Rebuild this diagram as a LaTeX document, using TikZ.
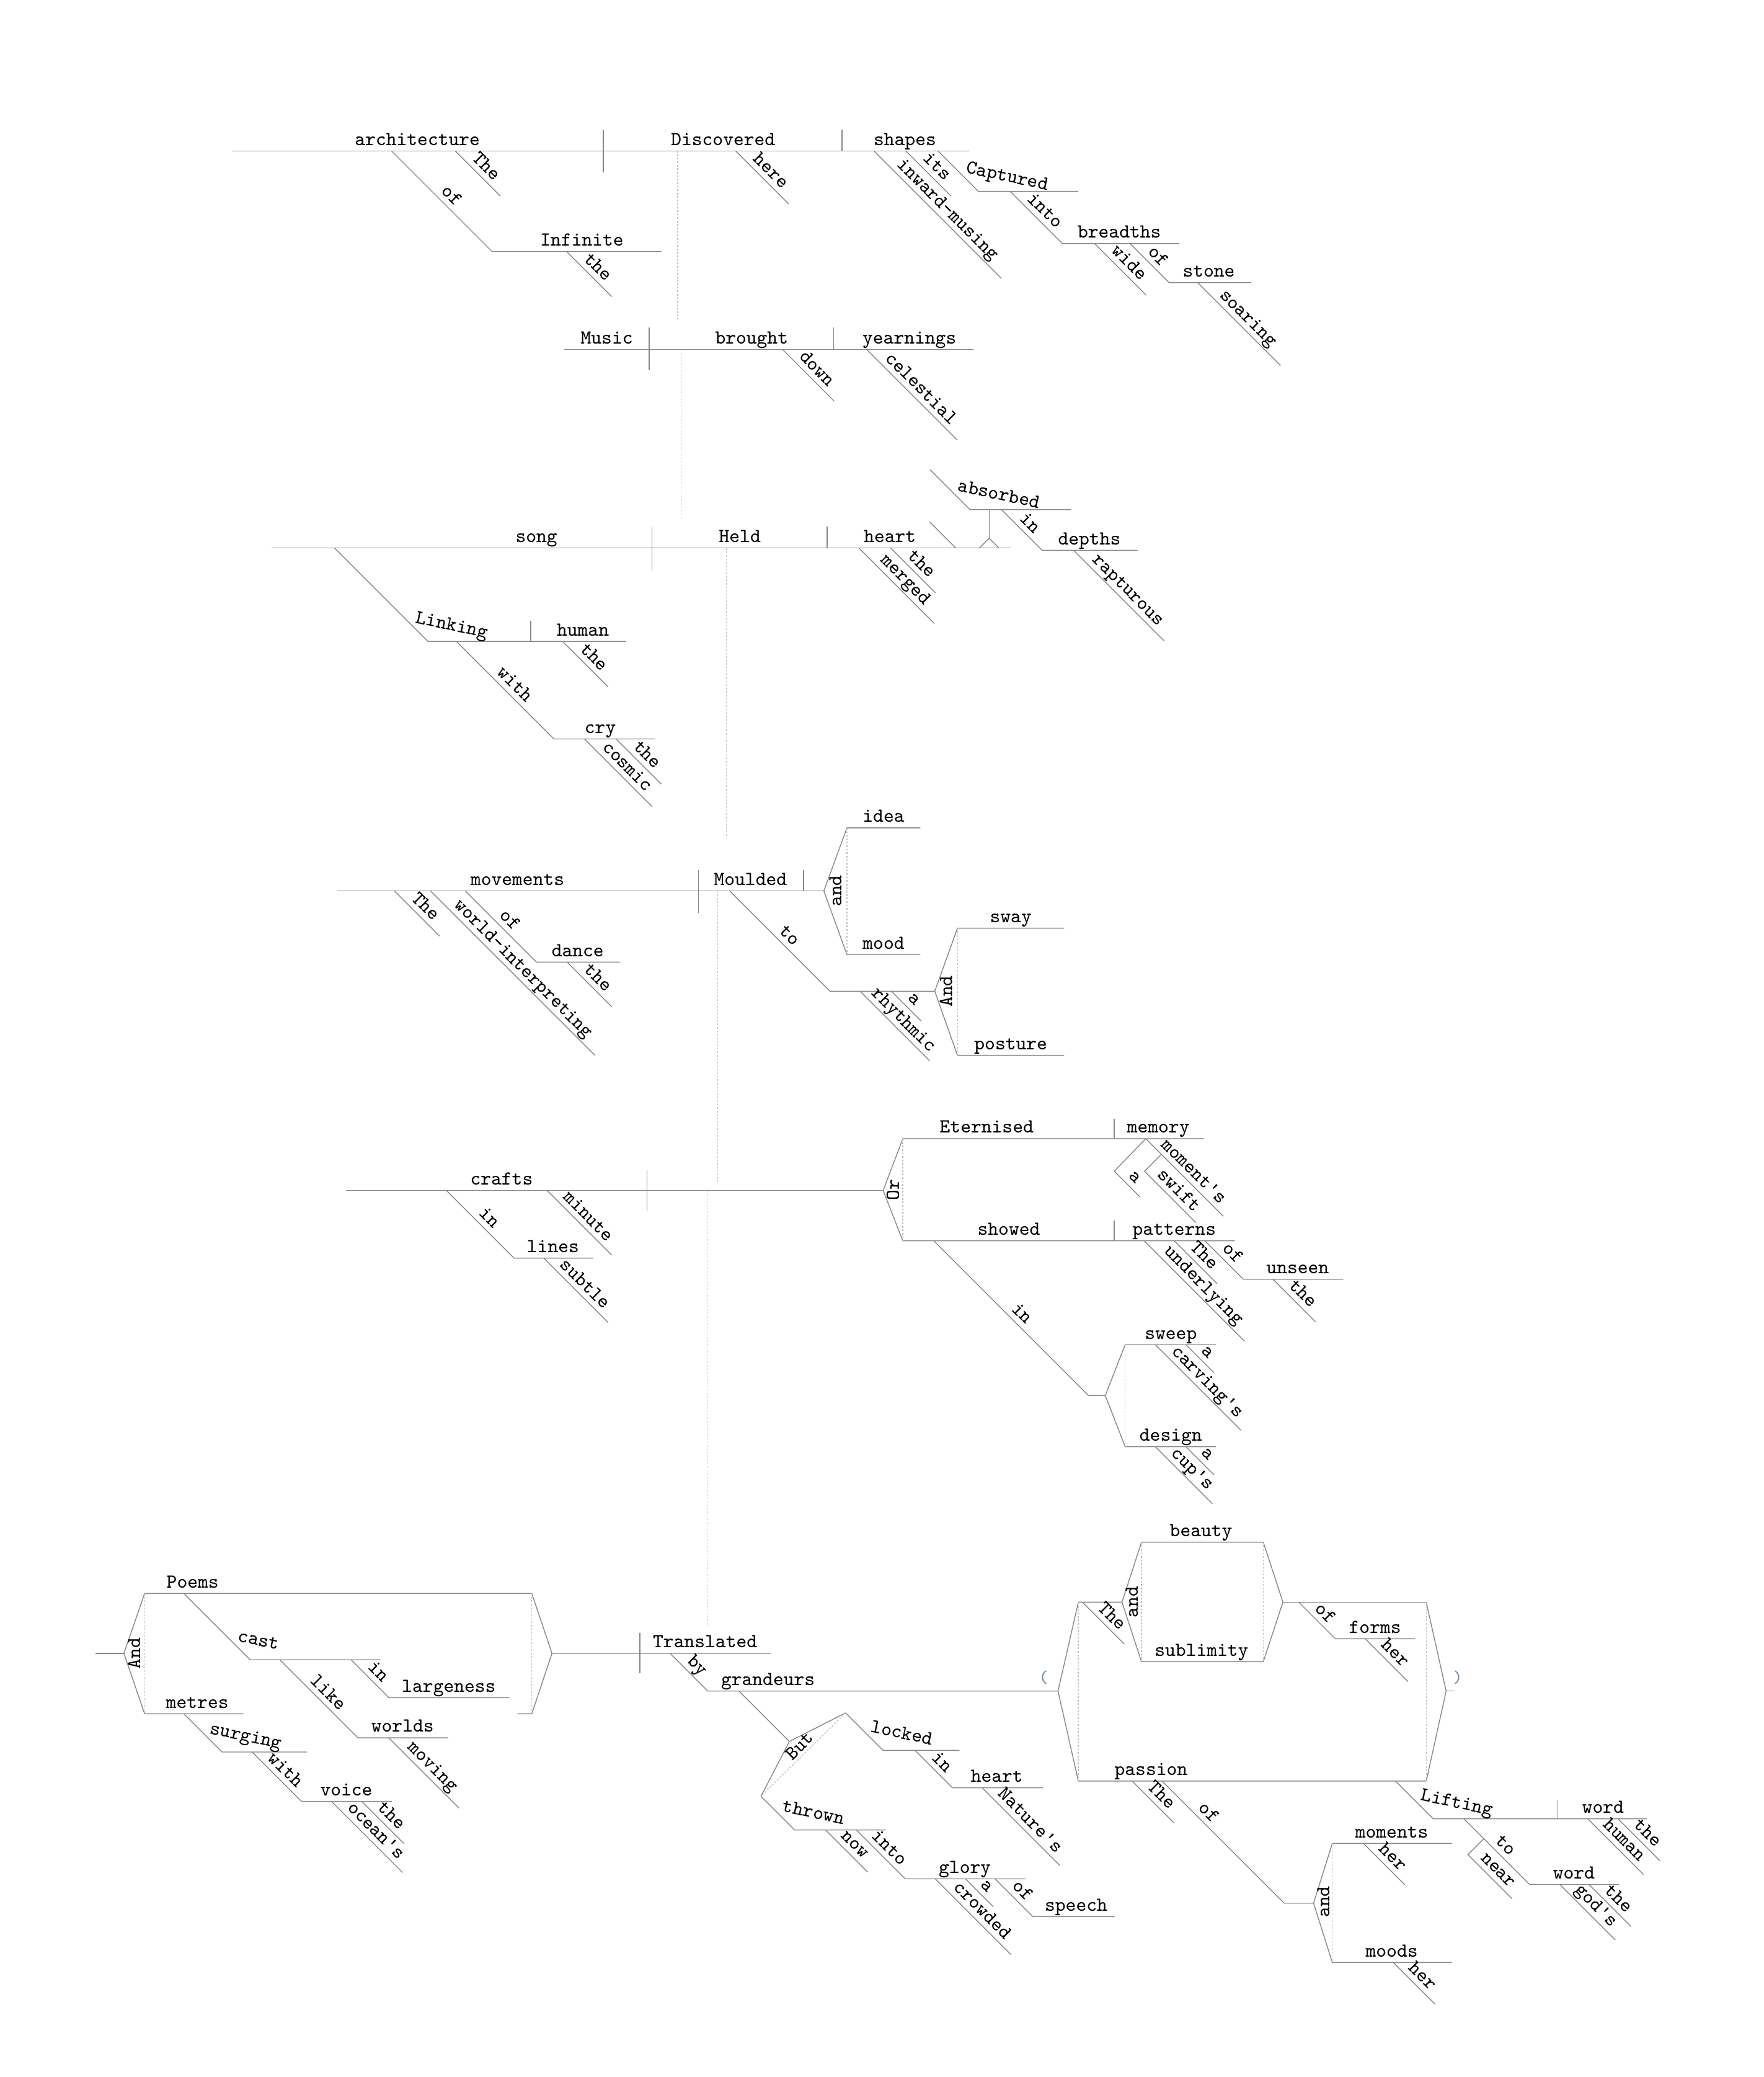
\documentclass[tikz,border=0pt]{standalone}
\usepackage{fontspec}
\usepackage{tikz}
\definecolor{linegray}{RGB}{135,135,135}
\definecolor{dotgray}{RGB}{190,190,190}
\definecolor{parenblue}{RGB}{115,140,175}
\tikzset{
    rk/.style={draw=linegray, line width=0.4pt},
    link/.style={draw=dotgray, line width=0.4pt, dash pattern=on 0.8pt off 0.8pt},
    word/.style={font=\fontsize{9.1}{10}\ttfamily, inner sep=0pt, text depth=0pt, above=2.4pt},
    mod/.style={word, sloped, pos=.52},
    part/.style={font=\fontsize{9.1}{10}\ttfamily, inner sep=0pt, anchor=base west, rotate=-12},
    conjtext/.style={font=\fontsize{9.1}{10}\ttfamily, inner sep=0pt},
    conj/.style={conjtext, rotate=90},
    paren/.style={font=\fontsize{8}{9}\ttfamily, inner sep=0pt, text=parenblue}
}

\begin{document}
\begin{tikzpicture}[x=0.0214cm, y=-0.0214cm]
    \fill[white] (0,0) rectangle (1329.4,1565);
    \useasboundingbox (0,0) rectangle (1329.4,1565);

    \draw[rk] (174.9,113.7) -- (730.2,113.7);
    \draw[rk] (454.6,97.8) -- (454.6,130.1);
    \draw[rk] (634.5,97.8) -- (634.5,113.7);
    \node[word] (architecture) at (314.6,113.7) {architecture};
    \node[word] (discovered) at (545,113.7) {Discovered};
    \node[word] (shapes) at (682,113.7) {shapes};
    \draw[rk] (343.1,113.7) -- ++(34,34) node[mod] (the-a) {The};
    \draw[rk] (295,113.7) -- ++(75.8,75.8) node[mod] (of-a) {of} -- (498.6,189.5);
    \node[word] (infinite) at (438.6,189.5) {Infinite};
    \draw[rk] (427,189.5) -- ++(34,34) node[mod] (the-i) {the};
    \draw[rk] (554.4,113.7) -- ++(40,40) node[mod] (here) {here};
    \draw[rk] (658.6,113.7) -- ++(96,96) node[mod] (inward) {inward-musing};
    \draw[rk] (682.7,113.7) -- ++(34,34) node[mod] (its) {its};
    \draw[rk] (706.9,113.7) -- ++(30.5,30.5) -- (812.8,144.2);
    \node[part] (captured) at (727.4,130.2) {Captured};
    \draw[rk] (761.3,144.2) -- ++(39.3,39.3) node[mod] (into-b) {into} -- (888.5,183.5);
    \node[word] (breadths) at (843.6,183.5) {breadths};
    \draw[rk] (824.9,183.5) -- ++(39,39) node[mod] (wide) {wide};
    \draw[rk] (851.7,183.5) -- ++(29.5,29.5) node[mod] (of-s) {of} -- (942.9,213);
    \node[word] (stone) at (911,213) {stone};
    \draw[rk] (902.7,213) -- ++(62.4,62.4) node[mod] (soaring) {soaring};
    \draw[link] (510.7,113.7) -- (510.7,240.7);

    \draw[rk] (425.1,263.3) -- (733.7,263.3);
    \draw[rk] (489.2,246.9) -- (489.2,279.2);
    \draw[rk] (628.3,246.9) -- (628.3,263.3);
    \node[word] (music) at (457.3,263.3) {Music};
    \node[word] (brought) at (566.5,263.3) {brought};
    \node[word] (yearnings) at (685.4,263.3) {yearnings};
    \draw[rk] (589.7,263.3) -- ++(39,39) node[mod] (down) {down};
    \draw[rk] (653.2,263.3) -- ++(68,68) node[mod] (celestial) {celestial};
    \draw[link] (513.4,263.3) -- (513.4,390.6);

    \draw[rk] (204.6,413) -- (762,413);
    \draw[rk] (491.3,396.9) -- (491.3,429.4);
    \draw[rk] (623.3,396.9) -- (623.3,413);
    \node[word] (song) at (404.3,413) {song};
    \node[word] (held) at (557.6,413) {Held};
    \node[word] (heart-h) at (670.7,413) {heart};
    \draw[rk] (647.4,413) -- ++(56.8,56.8) node[mod] (merged) {merged};
    \draw[rk] (671.3,413) -- ++(33.8,33.8) node[mod] (the-h) {the};
    \draw[rk] (700.8,393.4) -- (720.4,413);
    \draw[rk] (745.5,384) -- (745.5,405.6);
    \draw[rk] (738,413) -- (745.5,405.6) -- (753,413);
    \draw[rk] (701,354) -- ++(30,30) -- (807,384);
    \node[part] (absorbed) at (721,370) {absorbed};
    \draw[rk] (754.7,384) -- ++(30.7,30.7) node[mod] (in-d) {in} -- (857.3,414.7);
    \node[word] (depths) at (821,414.7) {depths};
    \draw[rk] (809.2,414.7) -- ++(68.2,68.2) node[mod] (rapturous) {rapturous};
    \draw[rk] (252.2,413) -- ++(70.3,70.3) -- (472,483.3);
    \node[part] (linking) at (312.5,469.3) {Linking};
    \draw[rk] (400,467.8) -- (400,483.3);
    \node[word] (human-l) at (439.3,483.3) {human};
    \draw[rk] (424,483.3) -- ++(34.3,34.3) node[mod] (the-l) {the};
    \draw[rk] (344,483.3) -- ++(73.5,73.5) node[mod] (with-c) {with} -- (493.6,556.8);
    \node[word] (cry) at (452.4,556.8) {cry};
    \draw[rk] (464.3,556.8) -- ++(34,34) node[mod] (the-c) {the};
    \draw[rk] (440.5,556.8) -- ++(51,51) node[mod] (cosmic) {cosmic};
    \draw[link] (547.3,413) -- (547.3,631.6);

    \draw[rk] (254.4,671.3) -- (620.9,671.3);
    \draw[rk] (526.3,655.4) -- (526.3,687.7);
    \draw[rk] (605.6,655.4) -- (605.6,671.3);
    \node[word] (movements) at (390,671.3) {movements};
    \node[word] (moulded) at (565.6,671.3) {Moulded};
    \draw[rk] (297.3,671.3) -- ++(34,34) node[mod] (the-m) {The};
    \draw[rk] (324.5,671.3) -- ++(123.8,123.8) node[mod] (world) {world-interpreting};
    \draw[rk] (350.7,671.3) -- ++(53.6,53.6) node[mod] (of-d) {of} -- (467.4,724.9);
    \node[word] (dance) at (435.4,724.9) {dance};
    \draw[rk] (427.4,724.9) -- ++(33.7,33.7) node[mod] (the-d) {the};
    \draw[rk] (693.6,623.8) -- (638.3,623.8) -- (620.9,671.3) -- (638.3,719.3) -- (693.6,719.3);
    \draw[link] (638.3,623.8) -- (638.3,719.3);
    \node[word] (idea) at (665.9,623.8) {idea};
    \node[word] (mood) at (665.9,719.3) {mood};
    \node[conj] (and-i) at (629.6,671.3) {and};
    \draw[rk] (550,671.3) -- ++(75.6,75.6) node[mod] (to-r) {to} -- (704.5,746.9);
    \draw[rk] (648.2,746.9) -- ++(52.4,52.4) node[mod] (rhythmic) {rhythmic};
    \draw[rk] (671.8,746.9) -- ++(22.4,22.4) node[mod] (a-r) {a};
    \draw[rk] (802,699.4) -- (721.6,699.4) -- (704.5,746.9) -- (721.6,795.2) -- (802,795.2);
    \draw[link] (721.6,699.4) -- (721.6,795.2);
    \node[word] (sway) at (761.8,699.4) {sway};
    \node[word] (posture) at (761.8,795.2) {posture};
    \node[conj] (and-s) at (713,747) {And};
    \draw[link] (540.9,671.3) -- (540.9,890.6);

    \draw[rk] (260.7,897) -- (665.6,897);
    \draw[rk] (487.6,881.5) -- (487.6,912.5);
    \node[word] (crafts) at (378,897) {crafts};
    \draw[rk] (336.4,897) -- ++(51,51) node[mod] (in-l) {in} -- (447.1,948);
    \node[word] (lines) at (416.8,948) {lines};
    \draw[rk] (409.8,948) -- ++(48.5,48.5) node[mod] (subtle) {subtle};
    \draw[rk] (412.3,897) -- ++(48.7,48.7) node[mod] (minute) {minute};
    \draw[link] (533,897) -- (533,1224.8);
    \draw[rk] (907.4,858) -- (680.4,858) -- (665.6,897) -- (680.4,934.9) -- (930.7,934.9);
    \draw[link] (680.4,858) -- (680.4,934.9);
    \node[conj] (or) at (673,896.5) {Or};
    \draw[rk] (839.7,842.8) -- (839.7,858);
    \node[word] (eternised) at (743.6,858) {Eternised};
    \node[word] (memory) at (873,858) {memory};
    \draw[rk] (863.5,858) -- ++(58.5,58.5) node[mod] (moments-m) {moment's};
    \draw[rk] (863.5,858) -- (839.8,882.5) -- ++(19.5,19.5) node[mod] (a-m) {a};
    \draw[rk] (875.3,869.8) -- (862.6,882.5) -- ++(38.8,38.8) node[mod] (swift) {swift};
    \draw[rk] (839.7,919.7) -- (839.7,934.9);
    \node[word] (showed) at (760.3,934.9) {showed};
    \node[word] (patterns) at (885,934.9) {patterns};
    \draw[rk] (862.3,934.9) -- ++(75.5,75.5) node[mod] (underlying) {underlying};
    \draw[rk] (885,934.9) -- ++(32.3,32.3) node[mod] (the-p) {The};
    \draw[rk] (908.1,934.9) -- ++(29,29) node[mod] (of-u) {of} -- (1012.3,963.9);
    \node[word] (unseen) at (978,963.9) {unseen};
    \draw[rk] (959.4,963.9) -- ++(32,32) node[mod] (the-u) {the};
    \draw[rk] (703.8,934.9) -- ++(116.6,116.6) node[mod] (in-s) {in} -- (833,1051.5);
    \draw[rk] (916.4,1013.2) -- (848,1013.2) -- (833,1051.5) -- (848,1090.1) -- (916.4,1090.1);
    \draw[link] (848,1013.2) -- (848,1090.1);
    \node[word] (sweep) at (882.4,1013.2) {sweep};
    \node[word] (design) at (882.4,1090.1) {design};
    \draw[rk] (893.8,1013.2) -- ++(21.2,21.2) node[mod] (a-sw) {a};
    \draw[rk] (870.7,1013.2) -- ++(64.6,64.6) node[mod] (carvings) {carving's};
    \draw[rk] (893.8,1090.1) -- ++(21.2,21.2) node[mod] (a-de) {a};
    \draw[rk] (870.7,1090.1) -- ++(43,43) node[mod] (cups) {cup's};

    \draw[rk] (72,1245.8) -- (93.4,1245.8);
    \draw[rk] (93.4,1245.8) -- (109,1200.6) -- (400.8,1200.6) -- (416,1245.8) -- (580.7,1245.8);
    \draw[rk] (183.5,1291.3) -- (109,1291.3) -- (93.4,1245.8);
    \draw[rk] (390,1291.3) -- (400.8,1291.3) -- (416,1245.8);
    \draw[link] (109,1200.6) -- (109,1291.3);
    \draw[link] (400.8,1200.6) -- (400.8,1291.3);
    \node[conj] (and-p) at (101,1246) {And};
    \node[word] (poems) at (145.2,1200.6) {Poems};
    \node[word] (metres) at (148.7,1291.3) {metres};
    \draw[rk] (138.5,1200.6) -- ++(50,50) -- (286.8,1250.6);
    \node[part] (cast) at (178.5,1236.6) {cast};
    \draw[rk] (264.5,1250.6) -- ++(28.6,28.6) node[mod] (in-g) {in} -- (383.9,1279.2);
    \node[word] (largeness) at (338.3,1279.2) {largeness};
    \draw[rk] (210.9,1250.6) -- ++(58.8,58.8) node[mod] (like) {like} -- (337.8,1309.4);
    \node[word] (worlds) at (303.4,1309.4) {worlds};
    \draw[rk] (293,1309.4) -- ++(53,53) node[mod] (moving) {moving};
    \draw[rk] (138.5,1291.3) -- ++(28.8,28.8) -- (231.5,1320.1);
    \node[part] (surging) at (157.3,1306.1) {surging};
    \draw[rk] (190,1320.1) -- ++(37.2,37.2) node[mod] (with-v) {with} -- (295.4,1357.3);
    \node[word] (voice) at (261,1357.3) {voice};
    \draw[rk] (272.6,1357.3) -- ++(31.8,31.8) node[mod] (the-v) {the};
    \draw[rk] (249.8,1357.3) -- ++(53.7,53.7) node[mod] (oceans) {ocean's};

    \draw[rk] (482.3,1230.6) -- (482.3,1261);
    \node[word] (translated) at (531.4,1245.8) {Translated};
    \draw[rk] (505.1,1245.8) -- ++(28.4,28.4) node[mod] (by) {by} -- (797.4,1274.2);
    \node[word] (grandeurs) at (578.8,1274.2) {grandeurs};
    \draw[rk] (556.9,1274.2) -- ++(38,38);
    \draw[rk] (637.3,1290.6) -- (594.9,1312.2) -- (573.5,1353.5);
    \draw[link] (637.3,1290.6) -- (573.5,1353.5);
    \node[conjtext, rotate=45] (but) at (602.4,1315.4) {But};
    \draw[rk] (637.3,1290.6) -- ++(28.3,28.3) -- (723.1,1318.9);
    \node[part] (locked) at (655.6,1304.9) {locked};
    \draw[rk] (689.6,1318.9) -- ++(28.2,28.2) node[mod] (in-n) {in} -- (785.9,1347.1);
    \node[word] (heart-n) at (751.3,1347.1) {heart};
    \draw[rk] (740.3,1347.1) -- ++(58.5,58.5) node[mod] (natures) {Nature's};
    \draw[rk] (573.5,1353.5) -- ++(25.4,25.4) -- (667.4,1378.9);
    \node[part] (thrown) at (588.9,1364.9) {thrown};
    \draw[rk] (622.3,1378.9) -- ++(31.7,31.7) node[mod] (now) {now};
    \draw[rk] (645.4,1378.9) -- ++(36.8,36.8) node[mod] (into-g) {into} -- (772.8,1415.7);
    \node[word] (glory) at (727.2,1415.7) {glory};
    \draw[rk] (704.9,1415.7) -- ++(57,57) node[mod] (crowded) {crowded};
    \draw[rk] (727.7,1415.7) -- ++(20.8,20.8) node[mod] (a-g) {a};
    \draw[rk] (750,1415.7) -- ++(28.4,28.4) node[mod] (of-sp) {of} -- (840,1444.1);
    \node[word] (speech) at (811,1444.1) {speech};

    \node[paren] (lparen) at (786.5,1264) {(};
    \node[paren] (rparen) at (1098.7,1264) {)};
    \draw[rk] (845.6,1207.2) -- (812.7,1207.2) -- (797.4,1274.2) -- (812.7,1342) -- (1074.9,1342);
    \draw[link] (812.7,1207.2) -- (812.7,1342);
    \draw[rk] (815.8,1207.2) -- ++(31.5,31.5) node[mod] (the-b) {The};
    \draw[rk] (845.6,1207.2) -- (860.3,1162) -- (952.1,1162) -- (966.9,1207.2) -- (952.1,1252.1) -- (860.3,1252.1) -- cycle;
    \draw[link] (860.3,1162) -- (860.3,1252.1);
    \draw[link] (952.1,1162) -- (952.1,1252.1);
    \node[conj] (and-b) at (853,1207.2) {and};
    \node[word] (beauty) at (905.2,1162) {beauty};
    \node[word] (sublimity) at (905.6,1252.1) {sublimity};
    \draw[rk] (966.9,1207.2) -- (1074.9,1207.2);
    \draw[rk] (978.8,1207.2) -- ++(27.6,27.6) node[mod] (of-f) {of} -- (1066.5,1234.8);
    \node[word] (forms) at (1036.3,1234.8) {forms};
    \draw[rk] (1028.9,1234.8) -- ++(32.2,32.2) node[mod] (her-f) {her};
    \draw[rk] (1074.9,1207.2) -- (1089.9,1274.2) -- (1074.9,1342);
    \draw[rk] (1089.9,1274.2) -- (1096.4,1274.2);
    \draw[link] (1074.9,1207.2) -- (1074.9,1342);
    \node[word] (passion) at (867.5,1342) {passion};
    \draw[rk] (853.3,1342) -- ++(31.4,31.4) node[mod] (the-pa) {The};
    \draw[rk] (875.8,1342) -- ++(92,92) node[mod, pos=.32] (of-m) {of} -- (990,1434);
    \draw[rk] (1094.2,1389) -- (1004.1,1389) -- (990,1434) -- (1004.1,1478.7) -- (1094.2,1478.7);
    \draw[link] (1004.1,1389) -- (1004.1,1478.7);
    \node[conj] (and-m) at (997.4,1433) {and};
    \node[word] (moments) at (1048.9,1389) {moments};
    \node[word] (moods) at (1048.9,1478.7) {moods};
    \draw[rk] (1027.6,1389) -- ++(31.2,31.2) node[mod] (her-m) {her};
    \draw[rk] (1050.1,1478.7) -- ++(31.3,31.3) node[mod] (her-d) {her};
    \draw[rk] (1051.7,1342) -- ++(28.4,28.4) -- (1241.3,1370.4);
    \node[part] (lifting) at (1070.1,1356.4) {Lifting};
    \draw[rk] (1174,1355.9) -- (1174,1370.4);
    \node[word] (word-h) at (1208.1,1370.4) {word};
    \draw[rk] (1196.6,1370.4) -- ++(42,42) node[mod] (human-w) {human};
    \draw[rk] (1219.4,1370.4) -- ++(31.6,31.6) node[mod] (the-w) {the};
    \draw[rk] (1103.3,1370.4) -- ++(49.5,49.5) node[mod] (to-w) {to} -- (1220,1419.9);
    \node[word] (word-g) at (1186.2,1419.9) {word};
    \draw[rk] (1118.3,1385.4) -- ++(-12,12) -- ++(33.3,33.3) node[mod] (near) {near};
    \draw[rk] (1197.5,1419.9) -- ++(31.6,31.6) node[mod] (the-g) {the};
    \draw[rk] (1175.6,1419.9) -- ++(41.8,41.8) node[mod] (gods) {god's};
\end{tikzpicture}
\end{document}
